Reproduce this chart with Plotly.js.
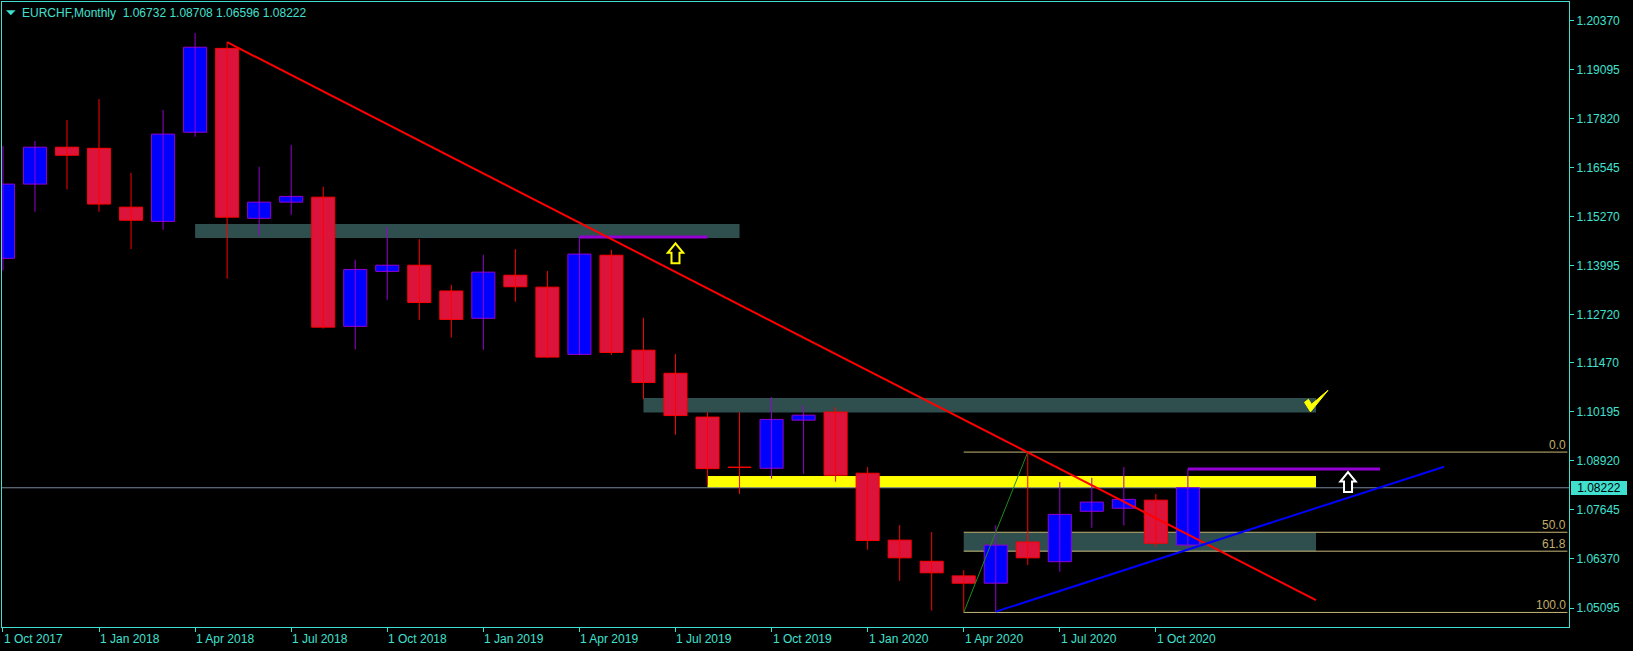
<!DOCTYPE html>
<html><head><meta charset="utf-8">
<script src="https://cdn.plot.ly/plotly-3.0.1.min.js"></script>
<style>html,body{margin:0;padding:0;background:#000;}#chart{width:1633px;height:651px;}</style>
</head><body><div id="chart"></div>
<script>
// ---- data (monthly EURCHF bars, Oct 2017 .. Nov 2020) ----
const months = ['2017-10','2017-11','2017-12','2018-01','2018-02','2018-03','2018-04','2018-05','2018-06','2018-07','2018-08','2018-09','2018-10','2018-11','2018-12','2019-01','2019-02','2019-03','2019-04','2019-05','2019-06','2019-07','2019-08','2019-09','2019-10','2019-11','2019-12','2020-01','2020-02','2020-03','2020-04','2020-05','2020-06','2020-07','2020-08','2020-09','2020-10','2020-11'];
const openP  = [1.1419,1.1612,1.1708,1.1705,1.1552,1.1515,1.1747,1.1965,1.1523,1.1565,1.1578,1.1242,1.1385,1.1401,1.1334,1.1263,1.1375,1.1344,1.1169,1.1427,1.1180,1.1120,1.1006,1.0876,1.0873,1.0998,1.1019,1.0860,1.0686,1.0631,1.0593,1.0574,1.0681,1.0630,1.0761,1.0769,1.0790,1.06732];
const highP  = [1.1711,1.1724,1.1779,1.1833,1.1641,1.1805,1.2005,1.1981,1.1657,1.1714,1.1605,1.1415,1.1500,1.1469,1.1350,1.1428,1.1443,1.1386,1.14745,1.1441,1.1264,1.1170,1.1019,1.1019,1.1058,1.1036,1.1032,1.0876,1.0725,1.0707,1.0608,1.0725,1.0915,1.0837,1.0848,1.0876,1.0806,1.08708];
const lowP   = [1.1387,1.1540,1.1598,1.1540,1.1443,1.1493,1.1735,1.1366,1.1478,1.1532,1.1236,1.1182,1.1311,1.1259,1.1213,1.1181,1.1306,1.1160,1.1167,1.1168,1.1053,1.0960,1.0829,1.0806,1.0846,1.0858,1.0838,1.0661,1.0580,1.0503,1.0498,1.0500,1.0621,1.0604,1.0718,1.0724,1.0669,1.06596];
const closeP = [1.1612,1.1708,1.1687,1.1560,1.1518,1.1742,1.1968,1.1526,1.1565,1.1580,1.1240,1.1390,1.1401,1.1304,1.1260,1.1383,1.1345,1.1162,1.1430,1.1174,1.1096,1.1010,1.0872,1.0875,1.1000,1.1011,1.0855,1.0685,1.0640,1.0601,1.0574,1.0673,1.0640,1.0753,1.0785,1.0792,1.0678,1.08222];

const tickMonths = ['2017-10','2018-01','2018-04','2018-07','2018-10','2019-01','2019-04','2019-07','2019-10','2020-01','2020-04','2020-07','2020-10'];
const tickLabels = ['1 Oct 2017','1 Jan 2018','1 Apr 2018','1 Jul 2018','1 Oct 2018','1 Jan 2019','1 Apr 2019','1 Jul 2019','1 Oct 2019','1 Jan 2020','1 Apr 2020','1 Jul 2020','1 Oct 2020'];
const priceTicks = [1.05095,1.06370,1.07645,1.08920,1.10195,1.11470,1.12720,1.13995,1.15270,1.16545,1.17820,1.19095,1.20370];

const symbol = 'EURCHF,Monthly';
const lastPrice = 1.08222;

// chart objects: [bar index, price]
const zones = [ // slate rectangles
  {x0:6,  x1:23, y0:1.1472, y1:1.1508},
  {x0:20, x1:41, y0:1.1018, y1:1.1056},
  {x0:30, x1:41, y0:1.0657, y1:1.0706}
];
const yellowZone = {x0:22, x1:41, y0:1.0822, y1:1.0853};
const redTrend   = {x0:7,  y0:1.1981, x1:41, y1:1.0530};
const blueTrend  = {x0:31, y0:1.0500, x1:45, y1:1.0877};
const fibAnchor  = {xLow:30, low:1.0498, xHigh:32, high:1.0915};
const fibLevels  = [0, 50, 61.8, 100];
const purpleLines = [{x0:18, x1:22, y:1.14745},{x0:37, x1:43, y:1.08708}];
const arrows = [{x:21, y:1.1432, color:'#FFFF00'},{x:42, y:1.0837, color:'#FFFFFF'}];
const checkMark = {x:41, y:1.1047};

// ---- styling ----
const TQ = '#40E0D0';
const BULL_FILL = '#0000FF', BULL_LINE = '#9400D3';
const BEAR_FILL = '#DC143C', BEAR_LINE = '#FF0000';
const FIB = '#C8B878';
const xRange = [-0.03, 48.9];
const yRange = [1.04601, 1.20856];

const bull = {x:[], base:[], y:[]}, bear = {x:[], base:[], y:[]};
const wB = {x:[], y:[]}, wR = {x:[], y:[]};
months.forEach((m, i) => {
  const o = openP[i], c = closeP[i];
  const up = c > o;
  const t = up ? bull : bear, w = up ? wB : wR;
  t.x.push(i); t.base.push(Math.min(o, c)); t.y.push(Math.max(Math.abs(c - o), 0.00005));
  w.x.push(i, i, null); w.y.push(lowP[i], highP[i], null);
});

const traces = [
  {type:'scatter', mode:'lines', x:wB.x, y:wB.y, line:{color:BULL_LINE, width:1}, hoverinfo:'skip'},
  {type:'scatter', mode:'lines', x:wR.x, y:wR.y, line:{color:BEAR_LINE, width:1}, hoverinfo:'skip'},
  {type:'bar', x:bull.x, base:bull.base, y:bull.y, width:0.72, marker:{color:BULL_FILL, line:{color:BULL_LINE, width:1}}, hoverinfo:'skip'},
  {type:'bar', x:bear.x, base:bear.base, y:bear.y, width:0.72, marker:{color:BEAR_FILL, line:{color:BEAR_LINE, width:1}}, hoverinfo:'skip'}
];

const shapes = [];
zones.forEach(z => shapes.push({type:'rect', xref:'x', yref:'y', x0:z.x0, x1:z.x1, y0:z.y0, y1:z.y1, fillcolor:'#2F4F4F', line:{width:0}, layer:'below'}));
shapes.push({type:'rect', xref:'x', yref:'y', x0:yellowZone.x0, x1:yellowZone.x1, y0:yellowZone.y0, y1:yellowZone.y1, fillcolor:'#FFFF00', line:{width:0}, layer:'below'});
shapes.push({type:'line', xref:'x', yref:'y', x0:xRange[0], x1:xRange[1], y0:lastPrice, y1:lastPrice, line:{color:'#778899', width:1}, layer:'below'});
const fibPrice = r => fibAnchor.high - r / 100 * (fibAnchor.high - fibAnchor.low);
fibLevels.forEach(r => shapes.push({type:'line', xref:'x', yref:'y', x0:fibAnchor.xLow, x1:xRange[1] - 0.05, y0:fibPrice(r), y1:fibPrice(r), line:{color:FIB, width:1}, layer:'below'}));
shapes.push({type:'line', xref:'x', yref:'y', x0:fibAnchor.xLow, y0:fibAnchor.low, x1:fibAnchor.xHigh, y1:fibAnchor.high, line:{color:'#1E8C1E', width:1}});
purpleLines.forEach(p => shapes.push({type:'line', xref:'x', yref:'y', x0:p.x0, x1:p.x1, y0:p.y, y1:p.y, line:{color:'#9400D3', width:3}}));
shapes.push({type:'line', xref:'x', yref:'y', x0:redTrend.x0, y0:redTrend.y0, x1:redTrend.x1, y1:redTrend.y1, line:{color:'#FF0000', width:2}});
shapes.push({type:'line', xref:'x', yref:'y', x0:blueTrend.x0, y0:blueTrend.y0, x1:blueTrend.x1, y1:blueTrend.y1, line:{color:'#0000FF', width:2}});
arrows.forEach(a => shapes.push({type:'path', xref:'x', yref:'y', xsizemode:'pixel', ysizemode:'pixel', xanchor:a.x, yanchor:a.y,
  path:'M0,10L7.7,0.5L4,0.5L4,-10L-4,-10L-4,0.5L-7.7,0.5Z', fillcolor:'#000000', line:{color:a.color, width:2}}));
shapes.push({type:'path', xref:'x', yref:'y', xsizemode:'pixel', ysizemode:'pixel', xanchor:checkMark.x, yanchor:checkMark.y,
  path:'M-11.5,-1L-7.5,2L-4.5,-3L12,11L-5.5,-10.5Z', fillcolor:'#FFFF00', line:{color:'#FFFF00', width:1}});
// header triangle
shapes.push({type:'path', xref:'x', yref:'y', xsizemode:'pixel', ysizemode:'pixel', xanchor:xRange[0], yanchor:yRange[1],
  path:'M4.5,-8.5L13,-8.5L8.8,-13Z', fillcolor:TQ, line:{color:TQ, width:0.5}});

const annotations = [];
tickMonths.forEach((m, k) => annotations.push({xref:'x', yref:'paper', x:months.indexOf(m), y:0, xanchor:'left', yanchor:'top', yshift:-3, xshift:-1,
  text:tickLabels[k], showarrow:false, font:{size:12, color:TQ}}));
fibLevels.forEach(r => annotations.push({xref:'x', yref:'y', x:xRange[1] - 0.05, y:fibPrice(r), xanchor:'right', yanchor:'bottom', yshift:-1, borderpad:0,
  text:r.toFixed(1), showarrow:false, font:{size:12, color:'#C0AE68'}}));
const last = months.length - 1;
annotations.push({xref:'paper', yref:'paper', x:0, y:1, xanchor:'left', yanchor:'top', xshift:18, yshift:-2, showarrow:false,
  text: symbol + '\u00a0\u00a0' + [openP[last], highP[last], lowP[last], closeP[last]].map(v => v.toFixed(5)).join(' '), font:{size:12, color:TQ}});
annotations.push({xref:'paper', yref:'y', x:1, y:lastPrice, xanchor:'left', yanchor:'middle', xshift:2, showarrow:false,
  text:lastPrice.toFixed(5), bgcolor:TQ, borderwidth:0, borderpad:1, width:54, height:12, font:{size:12, color:'#000000'}});

const layout = {
  width:1633, height:651,
  paper_bgcolor:'#000000', plot_bgcolor:'#000000',
  margin:{l:2, r:64, t:2, b:24},
  showlegend:false, barmode:'overlay', hovermode:false,
  font:{family:'Liberation Sans, Arial, sans-serif', size:12, color:TQ},
  xaxis:{type:'linear', range:xRange, showgrid:false, zeroline:false, showline:true, mirror:true, linecolor:TQ, linewidth:1,
    ticks:'outside', ticklen:4, tickcolor:TQ, tickvals:tickMonths.map(m => months.indexOf(m)), showticklabels:false, fixedrange:true},
  yaxis:{range:yRange, side:'right', showgrid:false, zeroline:false, showline:true, mirror:true, linecolor:TQ, linewidth:1,
    ticks:'outside', ticklen:4, tickcolor:TQ, tickvals:priceTicks, tickformat:'.5f', tickfont:{size:12, color:TQ}, fixedrange:true},
  shapes:shapes, annotations:annotations
};
Plotly.newPlot('chart', traces, layout, {displayModeBar:false, staticPlot:true});
</script></body></html>
